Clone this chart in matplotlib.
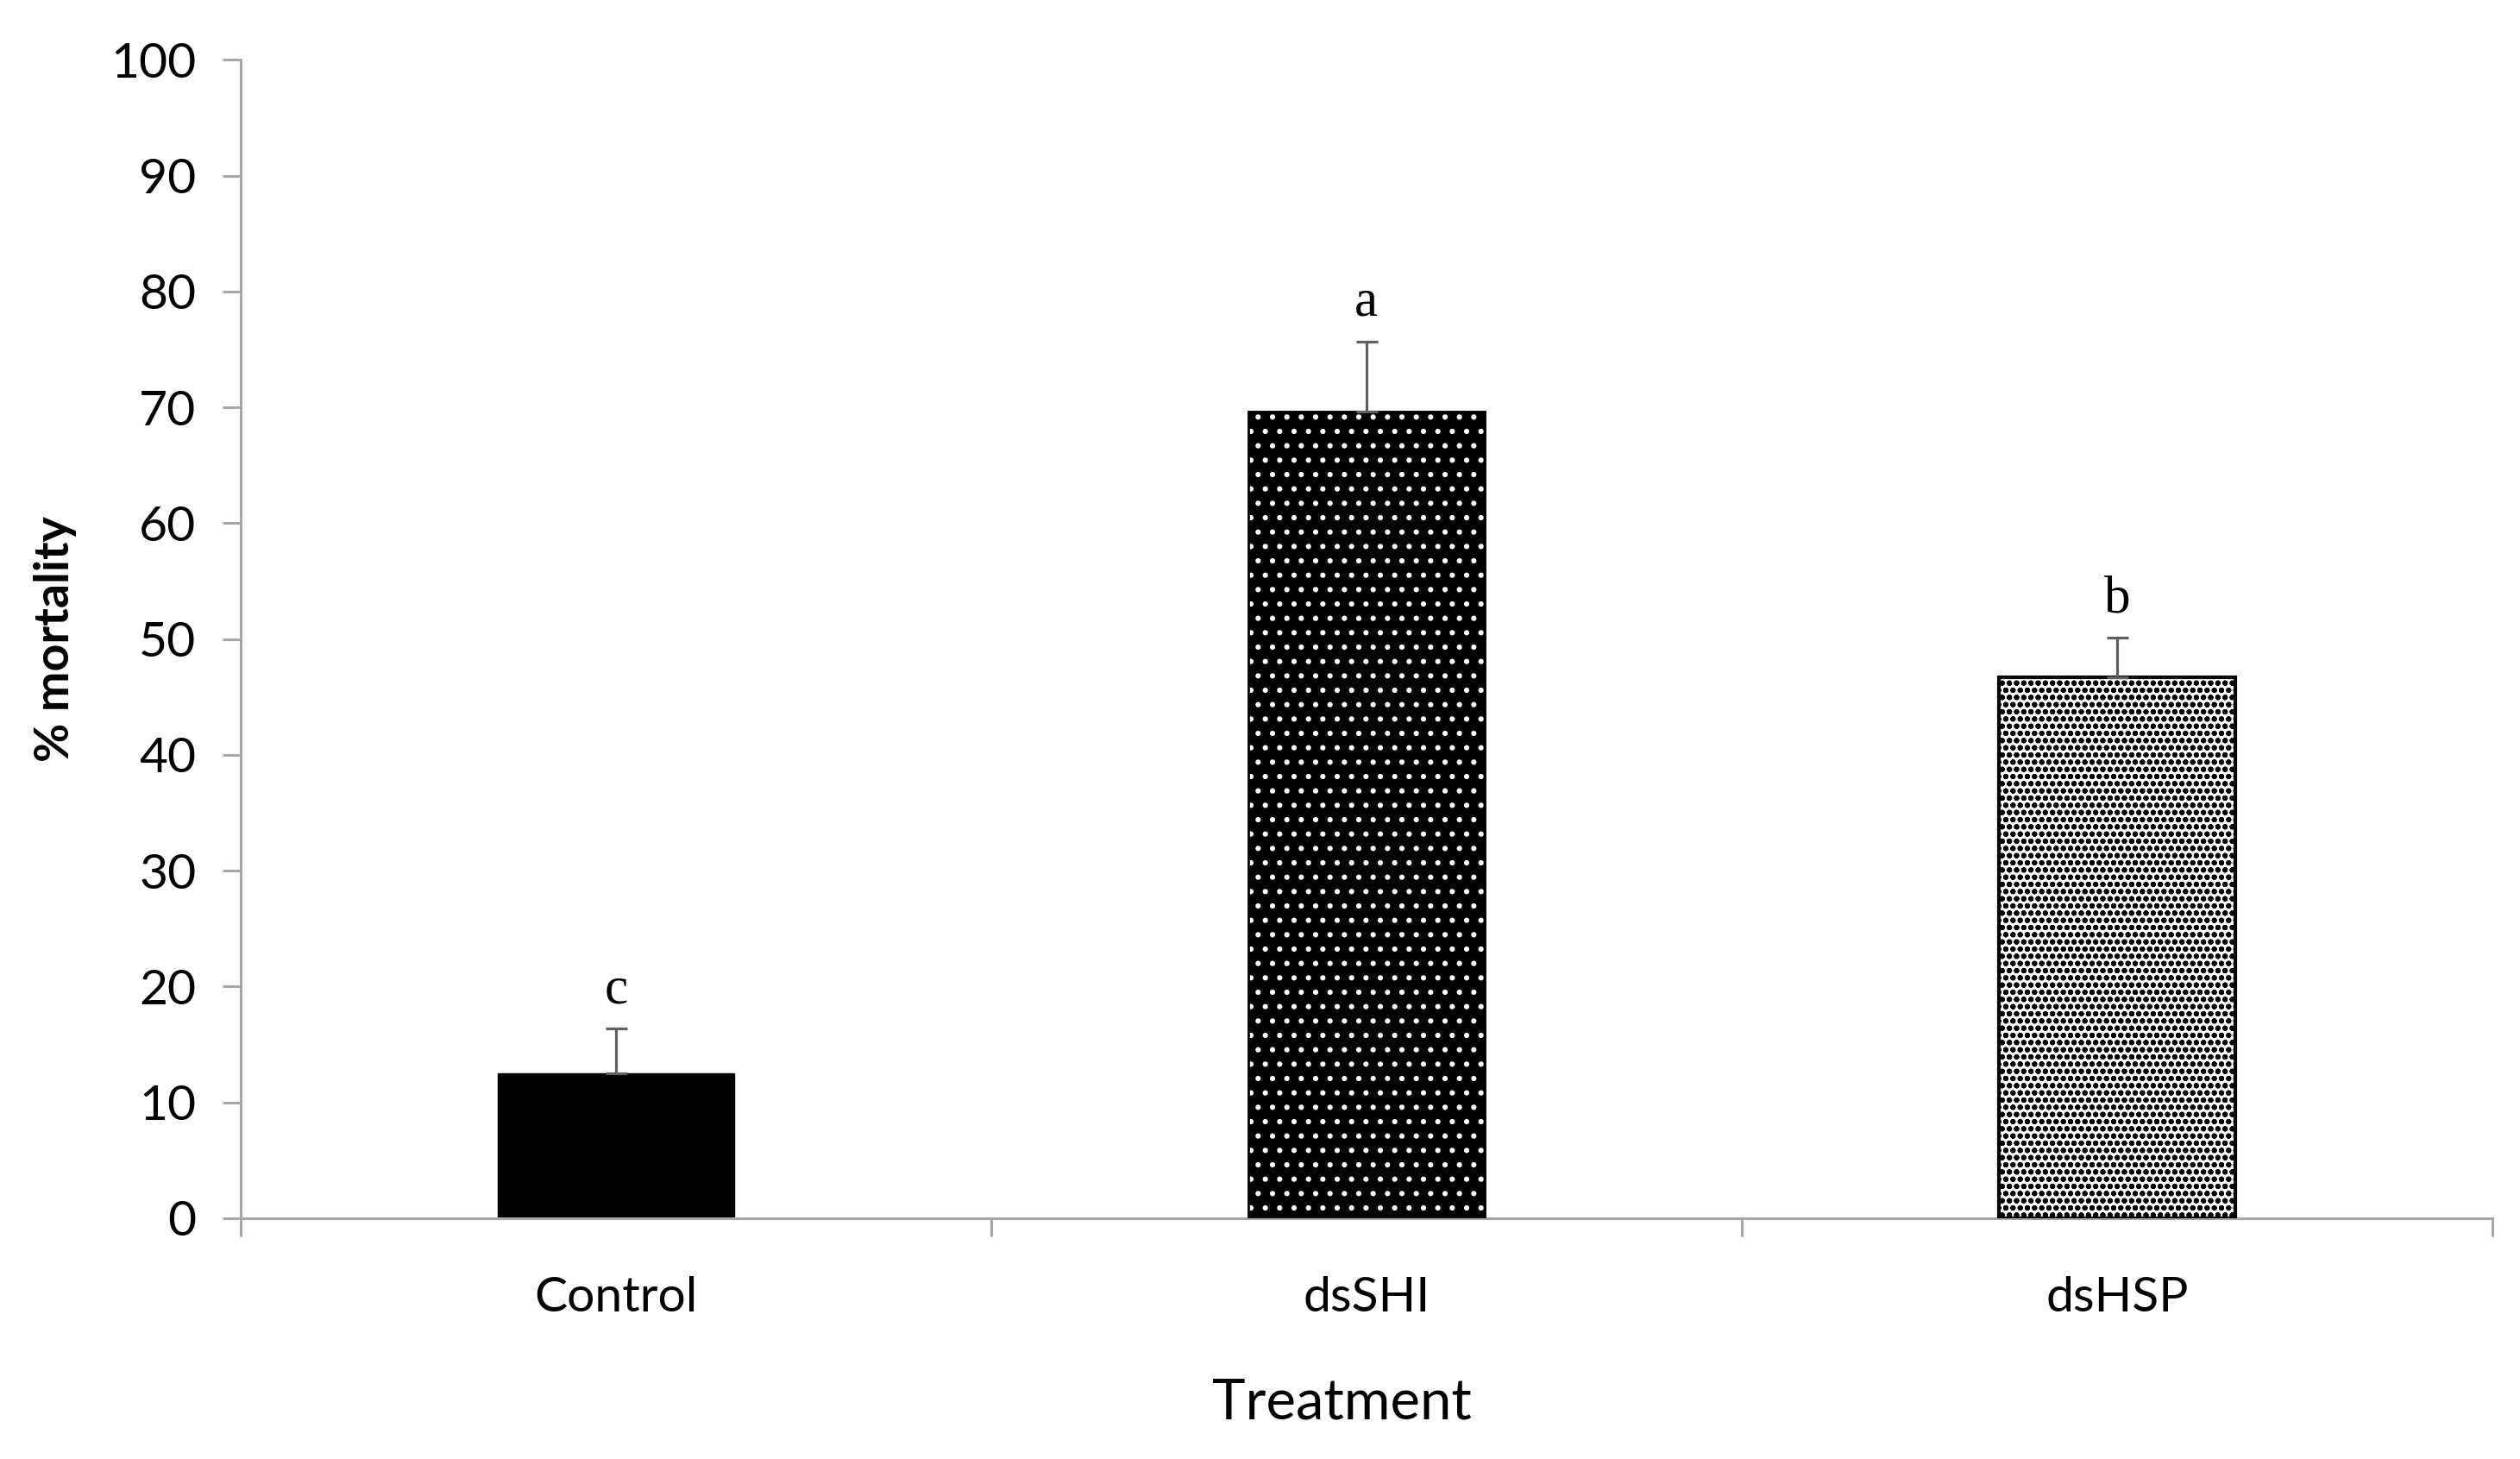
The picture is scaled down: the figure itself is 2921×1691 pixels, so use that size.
import numpy as np
import matplotlib
matplotlib.use("Agg")
import matplotlib.pyplot as plt

# data
treatments = ["Control", "dsSHI", "dsHSP"]
mortality = [12.5, 69.6, 46.7]
sem = [3.9, 6.1, 3.4]
letters = ["c", "a", "b"]

plt.rcParams['font.family'] = ['Lato', 'DejaVu Sans']
plt.rcParams['hatch.linewidth'] = 2.0

fig = plt.figure(figsize=(29.21, 16.91), dpi=100)
ax = fig.add_axes([0.0955, 0.165, 0.8935, 0.794])

x = np.arange(len(treatments))
w = 0.315
axis_grey = "#a6a6a6"

# plain black bar
ax.bar(x[0], mortality[0], w, color="black", edgecolor="black", linewidth=1, zorder=2)

# black bar with white dots
plt.rcParams['hatch.color'] = "white"
ax.bar(x[1], mortality[1], w, color="black", edgecolor="white", linewidth=0, hatch=".", zorder=2)
ax.bar(x[1], mortality[1], w, fill=False, edgecolor="black", linewidth=2, zorder=3)

# white bar with dense black dots
ax.bar(x[2], mortality[2], w, color="white", edgecolor="black", linewidth=0, hatch="oo", zorder=2)
ax.bar(x[2], mortality[2], w, fill=False, edgecolor="black", linewidth=3, zorder=3)

# error bars, upper side only
ax.errorbar(x, mortality, yerr=[np.zeros(len(sem)), sem], fmt="none",
            ecolor="#5f5f5f", elinewidth=2.3, capsize=9, capthick=2.3, zorder=4)

for xi, m, s, l in zip(x, mortality, sem, letters):
    ax.annotate(l, (xi, m + s), xytext=(0, 12), textcoords="offset points",
                ha="center", va="bottom", fontsize=44, family="Liberation Serif")

ax.set_xlim(-0.5, 2.5)
ax.set_ylim(0, 100)
ax.set_yticks(np.arange(0, 101, 10))
ax.set_xticks(x)
ax.set_xticklabels(treatments)
ax.set_xticks([-0.5, 0.5, 1.5, 2.5], minor=True)

for side in ["top", "right"]:
    ax.spines[side].set_visible(False)
for side in ["left", "bottom"]:
    ax.spines[side].set_color(axis_grey)
    ax.spines[side].set_linewidth(2.2)

ax.tick_params(axis="y", which="major", length=15, width=2.2, color=axis_grey,
               labelsize=41, pad=22)
ax.tick_params(axis="x", which="major", length=0, labelsize=41, pad=48)
ax.tick_params(axis="x", which="minor", length=15, width=2.2, color=axis_grey)

ax.set_xlabel("Treatment", fontsize=47, labelpad=48, x=0.489)
ax.set_ylabel("% mortality", fontsize=40, fontweight="bold", labelpad=28)

fig.savefig("out.png", dpi=100)
